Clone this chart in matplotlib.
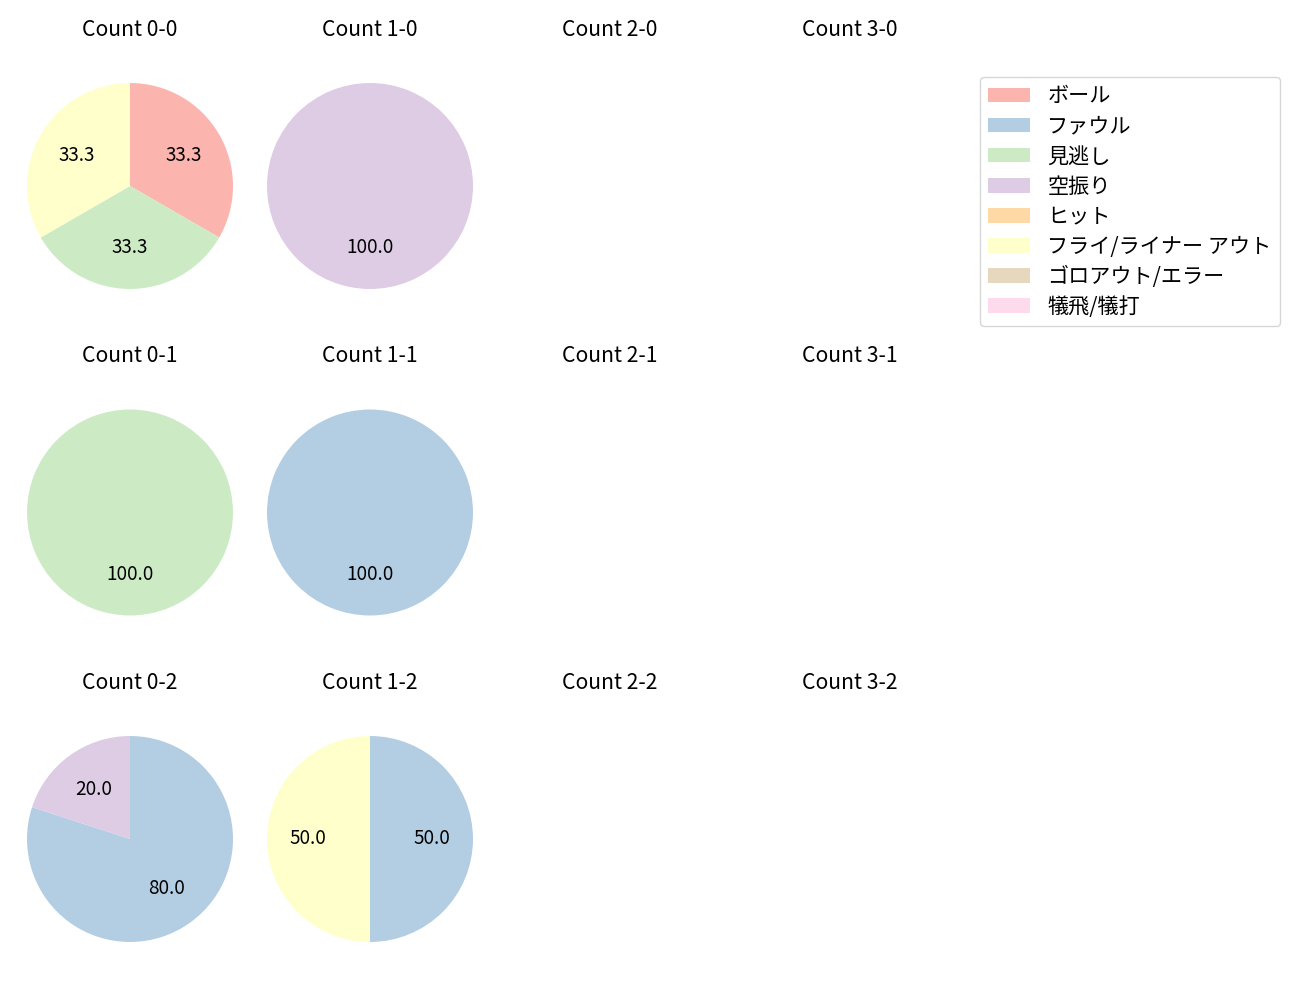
import numpy as np
import matplotlib
matplotlib.use('Agg')
import matplotlib.pyplot as plt
from matplotlib.patches import Patch

plt.rcParams['font.family'] = ['Noto Sans CJK JP', 'DejaVu Sans']

# categorías (orden de la leyenda)
categorias = ['ボール', 'ファウル', '見逃し', '空振り', 'ヒット',
              'フライ/ライナー アウト', 'ゴロアウト/エラー', '犠飛/犠打']
colores = plt.get_cmap('Pastel1').colors[:8]

# número de lanzamientos por cuenta (bolas-strikes)
c_0_0 = [1, 0, 1, 0, 0, 1, 0, 0]
c_1_0 = [0, 0, 0, 1, 0, 0, 0, 0]
c_2_0 = [0, 0, 0, 0, 0, 0, 0, 0]
c_3_0 = [0, 0, 0, 0, 0, 0, 0, 0]
c_0_1 = [0, 0, 1, 0, 0, 0, 0, 0]
c_1_1 = [0, 1, 0, 0, 0, 0, 0, 0]
c_2_1 = [0, 0, 0, 0, 0, 0, 0, 0]
c_3_1 = [0, 0, 0, 0, 0, 0, 0, 0]
c_0_2 = [0, 4, 0, 1, 0, 0, 0, 0]
c_1_2 = [0, 1, 0, 0, 0, 1, 0, 0]
c_2_2 = [0, 0, 0, 0, 0, 0, 0, 0]
c_3_2 = [0, 0, 0, 0, 0, 0, 0, 0]

datos = [[c_0_0, c_1_0, c_2_0, c_3_0],
         [c_0_1, c_1_1, c_2_1, c_3_1],
         [c_0_2, c_1_2, c_2_2, c_3_2]]

W, H = 1300, 1000
fig = plt.figure(figsize=(13, 10), dpi=100)

S = 276  # tamaño de cada eje en px
L = 1.34
for i in range(3):
    for j in range(4):
        cx = 130 + 240 * j
        cy = 186 + 326.5 * i
        ax = fig.add_axes([(cx - S / 2) / W, 1 - (cy + S / 2) / H, S / W, S / H])
        ax.set_title('Count %d-%d' % (j, i), fontsize=15.2, pad=8.7)
        vals = datos[i][j]
        idx = [k for k in range(8) if vals[k] > 0]
        if idx:
            ax.pie([vals[k] for k in idx], colors=[colores[k] for k in idx],
                   autopct='%.1f', startangle=90, counterclock=False,
                   textprops={'fontsize': 13.6})
        ax.set_xlim(-L, L)
        ax.set_ylim(-L, L)
        ax.set_aspect('equal')
        ax.axis('off')

handles = [Patch(facecolor=colores[k], label=categorias[k]) for k in range(8)]
fig.legend(handles=handles, loc='upper right', bbox_to_anchor=(1280 / W, 1 - 77 / H),
           borderaxespad=0, fontsize=15.2, labelspacing=0.38)

fig.savefig('out.png', dpi=100)
